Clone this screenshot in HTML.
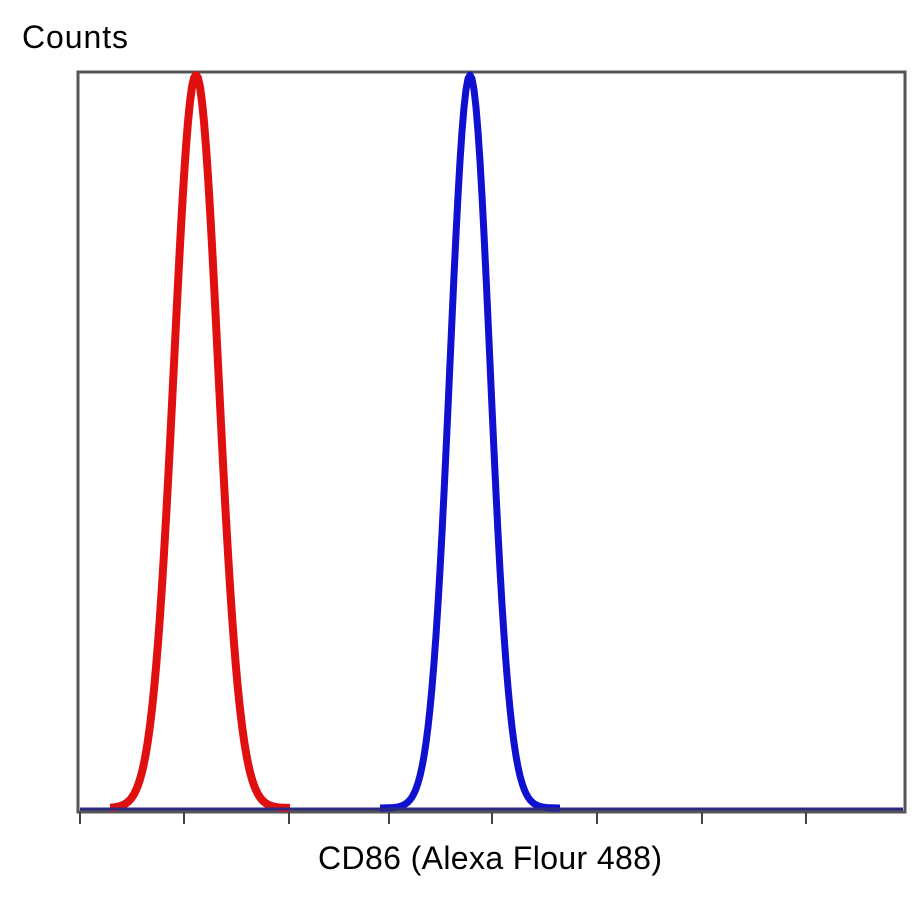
<!DOCTYPE html>
<html><head><meta charset="utf-8"><style>
body{margin:0;background:#fff;width:915px;height:902px;overflow:hidden;font-family:"Liberation Sans",sans-serif}
</style></head><body>
<svg width="915" height="902" xmlns="http://www.w3.org/2000/svg">
<rect width="915" height="902" fill="#fff"/>
<text x="22" y="48" font-size="32" fill="#000" font-family="Liberation Sans, sans-serif" textLength="106">Counts</text>
<rect x="78" y="72" width="827" height="740" fill="none" stroke="#555" stroke-width="3"/>
<g stroke="#444" stroke-width="2">
<line x1="80" y1="812" x2="80" y2="824"/><line x1="184" y1="812" x2="184" y2="824"/><line x1="289" y1="812" x2="289" y2="824"/><line x1="389" y1="812" x2="389" y2="824"/><line x1="492" y1="812" x2="492" y2="824"/><line x1="597" y1="812" x2="597" y2="824"/><line x1="702" y1="812" x2="702" y2="824"/><line x1="806" y1="812" x2="806" y2="824"/>
</g>
<path id="red" fill="none" stroke="#e01010" stroke-width="8" stroke-linejoin="round"/>
<path id="blue" fill="none" stroke="#1010d0" stroke-width="7" stroke-linejoin="round"/>
<line x1="80" y1="809" x2="903" y2="809" stroke="#2a2a80" stroke-width="3"/>
<text x="490" y="869" font-size="32" text-anchor="middle" fill="#000" font-family="Liberation Sans, sans-serif" textLength="344">CD86 (Alexa Flour 488)</text>
</svg>
<script>
function g(c,s,x0,x1){var d="";for(var x=x0;x<=x1;x+=2){var y=808-733*Math.exp(-Math.pow((x-c)/s,2)/2);d+=(d?"L":"M")+x+","+y.toFixed(1);}return d;}
document.getElementById("red").setAttribute("d",g(196,22,110,290));
document.getElementById("blue").setAttribute("d",g(470,20,380,560));
</script>
</body></html>
